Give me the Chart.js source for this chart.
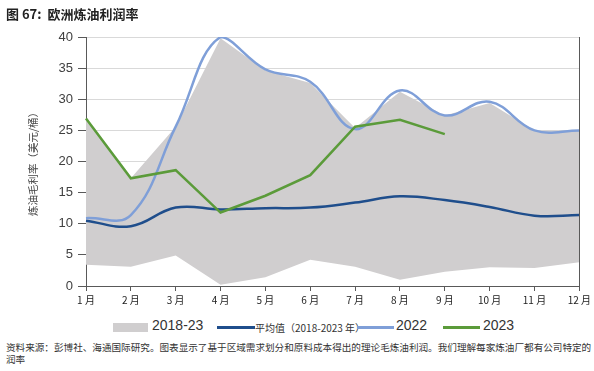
<!DOCTYPE html>
<html>
<head>
<meta charset="utf-8">
<script src="https://cdn.jsdelivr.net/npm/chart.js@4"></script>
<style>
  body { margin: 0; background: #fff; font-family: "Noto Sans CJK SC", "Liberation Sans", sans-serif; }
  #wrap { position: relative; width: 594px; height: 371px; overflow: hidden; }
  #chart { position: absolute; left: 0; top: 0; }
  .title { position: absolute; left: 6px; top: 4px; font-size: 13px; font-weight: bold; color: #222; white-space: pre; }
  .legend { position: absolute; top: 318px; left: 0; height: 18px; width: 594px; }
  .legend span { position: absolute; white-space: nowrap; color: #333; }
  .note { position: absolute; left: 6px; top: 341px; font-size: 9.6px; line-height: 12px; color: #333; white-space: nowrap; }
</style>
</head>
<body>
<div id="wrap">
  <canvas id="chart" width="594" height="310"></canvas>
  <div class="title">图 67:  欧洲炼油利润率</div>
  <div class="legend">
    <span style="left:113px;top:5px;width:35px;height:9px;background:#d0cecf;"></span>
    <span style="left:152px;top:-1px;font-size:14px;font-family:'Liberation Sans',sans-serif;">2018-23</span>
    <span style="left:217px;top:8px;width:38px;height:3px;background:#1f4e8c;"></span>
    <span style="left:255px;top:2px;font-size:10px;">平均值（2018-2023 年）</span>
    <span style="left:357px;top:8px;width:37px;height:3px;background:#7f9fd8;"></span>
    <span style="left:396px;top:-1px;font-size:14px;font-family:'Liberation Sans',sans-serif;">2022</span>
    <span style="left:443px;top:8px;width:37px;height:3px;background:#5b9b3a;"></span>
    <span style="left:483px;top:-1px;font-size:14px;font-family:'Liberation Sans',sans-serif;">2023</span>
  </div>
  <div class="note">资料来源：彭博社、海通国际研究。图表显示了基于区域需求划分和原料成本得出的理论毛炼油利润。我们理解每家炼油厂都有公司特定的<br>润率</div>
</div>
<script>
const months = ["1 月", "2 月", "3 月", "4 月", "5 月", "6 月", "7 月", "8 月", "9 月", "10 月", "11 月", "12 月"];
const rangeLow = [3.4, 3.1, 4.9, 0.2, 1.4, 4.2, 3.1, 1.0, 2.3, 3.0, 2.9, 3.8];
const rangeHigh = [26.9, 17.3, 25.6, 39.8, 34.6, 32.6, 25.4, 31.2, 27.4, 29.4, 25.0, 25.0];
const avg = [10.5, 9.6, 12.6, 12.3, 12.5, 12.6, 13.4, 14.4, 13.8, 12.7, 11.3, 11.4];
const y2022 = [10.9, 11.4, 25.6, 40.0, 34.8, 32.8, 25.2, 31.4, 27.4, 29.6, 25.0, 25.0];
const y2023 = [26.9, 17.3, 18.6, 11.8, 14.5, 17.8, 25.6, 26.7, 24.4, null, null, null];

const axisColor = "#595959";

// right border of the plot area
const frame = {
  id: "frame",
  afterDraw(chart) {
    const a = chart.chartArea;
    const ctx = chart.ctx;
    ctx.save();
    ctx.strokeStyle = axisColor;
    ctx.lineWidth = 1;
    ctx.beginPath();
    ctx.moveTo(Math.round(a.right) + 0.5, a.top);
    ctx.lineTo(Math.round(a.right) + 0.5, a.bottom);
    ctx.stroke();
    ctx.restore();
  }
};

new Chart(document.getElementById("chart"), {
  type: "line",
  data: {
    labels: months,
    datasets: [
      { label: "low", data: rangeLow, borderWidth: 0, pointRadius: 0, fill: false, tension: 0, order: 10 },
      { label: "2018-23", data: rangeHigh, borderWidth: 0, pointRadius: 0, fill: 0, backgroundColor: "#d0cecf", tension: 0, order: 9 },
      { label: "平均值（2018-2023 年）", data: avg, borderColor: "#1f4e8c", borderWidth: 2.5, pointRadius: 0, tension: 0.4, fill: false, order: 3 },
      { label: "2022", data: y2022, borderColor: "#7f9fd8", borderWidth: 2.5, pointRadius: 0, tension: 0.4, fill: false, order: 2 },
      { label: "2023", data: y2023, borderColor: "#5b9b3a", borderWidth: 2.5, pointRadius: 0, tension: 0, fill: false, order: 1 }
    ]
  },
  options: {
    responsive: false,
    animation: false,
    layout: { padding: { top: 37, right: 12, left: 0, bottom: 0 } },
    plugins: {
      legend: { display: false },
      tooltip: { enabled: false },
      filler: { drawTime: "beforeDatasetsDraw" }
    },
    scales: {
      x: {
        offset: false,
        grid: { drawOnChartArea: false, tickLength: 5, tickColor: axisColor },
        border: { color: axisColor },
        ticks: { color: "#222", font: { size: 10, family: "Noto Sans CJK SC" }, padding: 3, maxRotation: 0, autoSkip: false },
        afterFit(s) { s.height = 24; }
      },
      y: {
        min: 0,
        max: 40,
        grid: { color: "#d9d9d9", tickLength: 8, tickColor: axisColor },
        border: { color: axisColor },
        ticks: { stepSize: 5, color: "#404040", font: { size: 13, family: "Liberation Sans" }, padding: 5 },
        title: { display: true, text: "炼油毛利率（美元/桶）", color: "#444", font: { size: 10.5, family: "Noto Sans CJK SC" }, padding: { top: 27, bottom: 0 } },
        afterFit(s) { s.width = 86; }
      }
    }
  },
  plugins: [frame]
});
</script>
</body>
</html>
